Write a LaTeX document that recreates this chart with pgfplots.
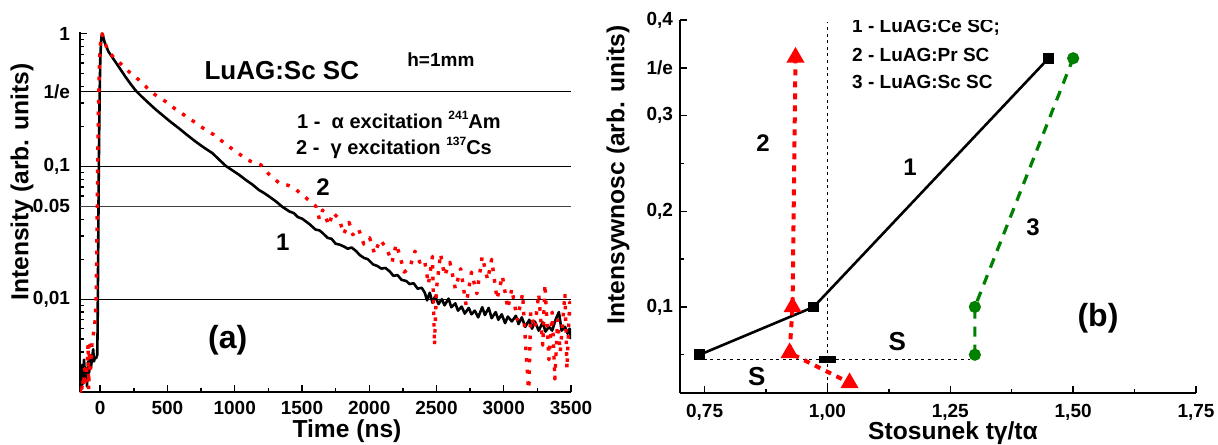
\documentclass[border=0pt]{standalone}
\usepackage{fontspec}
\setmainfont{Liberation Sans}
\usepackage{pgfplots}
\pgfplotsset{compat=1.18}
\definecolor{rred}{RGB}{255,0,0}
\definecolor{ggreen}{RGB}{0,128,0}

\newcommand{\fs}[1]{\bfseries\fontsize{#1}{#1}\selectfont}

\pgfplotsset{
  panel/.style={
    scale only axis,
    axis x line*=bottom, axis y line*=left,
    axis line style={line width=0.7pt},
    tick align=inside,
    major tick length=3.5pt, minor tick length=2pt,
    tick style={black, line width=0.7pt},
    tick label style={font=\fs{9.5}},
    /pgf/number format/assume math mode=true,
  },
}

\begin{document}
\begin{tikzpicture}
\path[use as bounding box] (-40pt,-26pt) rectangle (569pt,196pt);

% ---------- (a) decay curves ----------
\begin{axis}[panel,
  at={(0,0)}, anchor=south west,
  width=245.5pt, height=180pt,
  xmin=-150, xmax=3500,
  ymode=log, ymin=0.002, ymax=1.03,
  xtick={0,500,1000,1500,2000,2500,3000,3500},
  xticklabels={0,500,1000,1500,2000,2500,3000,3500},
  minor xtick={250,750,1250,1750,2250,2750,3250},
  xticklabel style={yshift=-1pt},
  ytick={0.01,0.05,0.1,0.3679,1},
  yticklabels={{0,01},0.05,{0,1},1/e,1},
  minor ytick={0.002,0.003,0.004,0.005,0.006,0.007,0.008,0.009,
               0.02,0.03,0.04,0.06,0.07,0.08,0.09,
               0.2,0.3,0.4,0.5,0.6,0.7,0.8,0.9},
  yticklabel style={xshift=-1.5pt},
]
% level lines
\addplot[black, line width=0.6pt] coordinates {(-150,0.3679) (3500,0.3679)};
\addplot[black, line width=0.6pt] coordinates {(-150,0.1) (3500,0.1)};
\addplot[black!75, line width=0.6pt] coordinates {(-150,0.05) (3500,0.05)};
\addplot[black, line width=0.6pt] coordinates {(-150,0.01) (3500,0.01)};

% 1 - alpha excitation
\addplot[black, line width=1.3pt, line join=round] coordinates {
(-150,0.0019) (-145,0.0028) (-140,0.0021) (-135,0.0032) (-128,0.0023) (-120,0.0035)
(-112,0.0026) (-105,0.0030) (-98,0.0022) (-90,0.0034) (-82,0.0028) (-75,0.0038)
(-68,0.0031) (-60,0.0036) (-52,0.0042) (-46,0.0034) (-40,0.0036) (-30,0.0036)
(-22,0.0038) (-19,0.006) (-17,0.012) (-14,0.03) (-11,0.08) (-7,0.2) (-3,0.4)
(1,0.65) (6,0.85) (11,0.97) (15,1.0) (22,0.95) (35,0.85) (62,0.732) (112,0.616)
(150,0.54) (187,0.475) (225,0.42) (262,0.375) (310,0.335) (361,0.30) (410,0.27)
(460,0.245) (520,0.218) (585,0.194) (645,0.173) (709,0.154) (770,0.139) (834,0.126)
(933,0.101) (1032,0.0866) (1080,0.0795) (1132,0.073) (1180,0.0665) (1219,0.063)
(1260,0.059) (1306,0.0546) (1350,0.050) (1405,0.0459) (1440,0.0445) (1470,0.0415)
(1500,0.0405) (1530,0.0385) (1560,0.0365) (1600,0.0335) (1630,0.0330) (1654,0.0315)
(1690,0.0290) (1720,0.0285) (1750,0.0262) (1778,0.0258) (1810,0.0250) (1840,0.0240)
(1870,0.0245) (1903,0.0230) (1930,0.0215) (1960,0.0205) (1990,0.0200) (2028,0.0183)
(2060,0.0178) (2090,0.0170) (2120,0.0172) (2152,0.0162) (2180,0.0150) (2210,0.0152)
(2240,0.0140) (2276,0.0137) (2300,0.0130) (2330,0.0132) (2360,0.0120) (2390,0.0122)
(2413,0.0112) (2430,0.0098) (2450,0.0112) (2470,0.0094) (2490,0.0105) (2515,0.0092)
(2540,0.0100) (2560,0.0090) (2590,0.0101) (2610,0.0087) (2640,0.0093) (2660,0.0082)
(2687,0.0088) (2710,0.0078) (2740,0.0086) (2760,0.0077) (2785,0.0082) (2810,0.0073)
(2840,0.0087) (2860,0.0076) (2888,0.0086) (2910,0.0072) (2940,0.0080) (2960,0.0070)
(2985,0.0077) (3010,0.0066) (3030,0.0074) (3060,0.0068) (3090,0.0075) (3110,0.0065)
(3134,0.0073) (3160,0.0062) (3190,0.0070) (3210,0.0060) (3231,0.0068) (3260,0.0058)
(3290,0.0067) (3310,0.0057) (3336,0.0062) (3360,0.0058) (3385,0.0070) (3410,0.0080)
(3430,0.0058) (3455,0.0062) (3475,0.0055) (3490,0.0060) (3500,0.0050)
};

% 2 - gamma excitation
\addplot[rred, line width=1.7pt, line join=round, dash pattern=on 1.8pt off 4pt] coordinates {
(-150,0.0021) (-140,0.0019) (-130,0.0025) (-125,0.0022) (-115,0.0030) (-105,0.0024)
(-95,0.0035) (-90,0.0046) (-85,0.0021) (-80,0.0045) (-70,0.0030) (-60,0.0047)
(-50,0.0055) (-40,0.0065) (-35,0.0077) (-30,0.0105) (-26,0.02) (-22,0.05)
(-18,0.12) (-12,0.3) (-6,0.55) (0,0.8) (8,0.95) (15,1.0) (25,0.92) (50,0.78)
(100,0.66) (137,0.615) (211,0.52) (286,0.45) (350,0.39) (410,0.346) (498,0.303)
(560,0.27) (622,0.245) (690,0.22) (746,0.200) (846,0.173) (958,0.141) (1030,0.125)
(1095,0.112) (1150,0.106) (1194,0.103) (1256,0.087) (1331,0.075) (1400,0.072)
(1455,0.067) (1530,0.058) (1604,0.050) (1630,0.040) (1654,0.047) (1700,0.036)
(1730,0.045) (1778,0.040) (1810,0.031) (1850,0.038) (1878,0.0306) (1920,0.034)
(1960,0.026) (2003,0.029) (2040,0.022) (2080,0.028) (2127,0.0244) (2170,0.019)
(2200,0.026) (2226,0.0217) (2260,0.016) (2301,0.0172) (2340,0.023) (2376,0.019)
(2410,0.020) (2440,0.013) (2470,0.021) (2485,0.0045) (2500,0.012) (2530,0.022)
(2560,0.015) (2600,0.019) (2640,0.012) (2680,0.017) (2720,0.009) (2760,0.016)
(2800,0.011) (2840,0.021) (2880,0.014) (2910,0.020) (2950,0.010) (2990,0.015)
(3030,0.0085) (3060,0.012) (3100,0.007) (3140,0.011) (3160,0.005) (3186,0.0019)
(3200,0.008) (3230,0.006) (3260,0.011) (3290,0.0045) (3306,0.013) (3336,0.0035)
(3360,0.008) (3380,0.0025) (3400,0.007) (3420,0.004) (3455,0.011) (3470,0.003)
(3490,0.0095) (3500,0.0069)
};

\node[font=\fs{13}] at (rel axis cs:0.411,0.892) {LuAG:Sc SC};
\node[font=\fs{9.5}] at (rel axis cs:0.735,0.922) {h=1mm};
\node[font=\fs{10}, anchor=west] at (rel axis cs:0.428,0.756)
  {1 -\ \ α excitation \raisebox{0.8ex}{\fs{6}241}Am};
\node[font=\fs{10}, anchor=west] at (rel axis cs:0.426,0.678)
  {2 -\ \ γ excitation \raisebox{0.8ex}{\fs{6}137}Cs};
\node[font=\fs{12}] at (rel axis cs:0.495,0.569) {2};
\node[font=\fs{12}] at (rel axis cs:0.413,0.417) {1};
\node[font=\fs{16}] at (rel axis cs:0.301,0.144) {(a)};
\end{axis}

% ---------- (b) intensity vs ratio ----------
\begin{axis}[panel,
  at={(300pt,-0.5pt)}, anchor=south west,
  width=258pt, height=186.5pt,
  xmin=0.70, xmax=1.75, ymin=0.01, ymax=0.4,
  xtick={0.75,1,1.25,1.5,1.75},
  xticklabels={{0,75},{1,00},{1,25},{1,50},{1,75}},
  minor xtick={0.875,1.125,1.375,1.625},
  xticklabel style={yshift=-2pt},
  ytick={0.1,0.2,0.3,0.35,0.4},
  yticklabels={{0,1},{0,2},{0,3},1/e,{0,4}},
  minor ytick={0.05,0.15,0.25},
]
\addplot[black, line width=0.8pt, dash pattern=on 1.5pt off 1.8pt]
  coordinates {(1.0,0.01) (1.0,0.398)};
\addplot[black, line width=0.8pt, dash pattern=on 1.5pt off 1.8pt]
  coordinates {(0.748,0.045) (1.29,0.045)};
\addplot[black, only marks, mark=square*, mark size=2pt,
  mark options={xscale=1.9, yscale=0.7}] coordinates {(1.0,0.045)};

% 1 - LuAG:Ce
\addplot[black, line width=1.3pt, mark=square*, mark size=2pt]
  coordinates {(0.74,0.05) (0.972,0.1) (1.45,0.36)};
% 2 - LuAG:Pr
\addplot[rred, line width=2pt, dash pattern=on 3pt off 3pt,
  mark=triangle*, mark size=3.2pt, mark options={solid}]
  coordinates {(0.935,0.361) (0.929,0.1) (0.923,0.052) (1.045,0.0206)};
% 3 - LuAG:Sc
\addplot[ggreen, line width=1.6pt, dash pattern=on 5pt off 4pt,
  mark=*, mark size=2.2pt, mark options={solid}]
  coordinates {(1.30,0.05) (1.30,0.1) (1.50,0.36)};

\node[font=\fs{9.5}, anchor=west] at (rel axis cs:0.320,0.979) {1 - LuAG:Ce SC;};
\node[font=\fs{9.5}, anchor=west] at (rel axis cs:0.320,0.906) {2 - LuAG:Pr SC};
\node[font=\fs{9.5}, anchor=west] at (rel axis cs:0.320,0.834) {3 - LuAG:Sc SC};
\node[font=\fs{12}] at (rel axis cs:0.161,0.670) {2};
\node[font=\fs{12}] at (rel axis cs:0.446,0.606) {1};
\node[font=\fs{12}] at (rel axis cs:0.684,0.445) {3};
\node[font=\fs{13}] at (rel axis cs:0.421,0.137) {S};
\node[font=\fs{13}] at (rel axis cs:0.149,0.043) {S};
\node[font=\fs{16}] at (rel axis cs:0.810,0.201) {(b)};
\end{axis}

% axis titles
\node[font=\fs{12.3}] at (133.5pt,-19.5pt) {Time (ns)};
\node[font=\fs{12.3}, rotate=90] at (-29pt,105pt) {Intensity (arb. units)};
\node[font=\fs{12.3}] at (436.5pt,-20.5pt) {Stosunek tγ/tα};
\node[font=\fs{12.3}, rotate=90] at (269pt,108.5pt) {Intensywnosc (arb. units)};
\end{tikzpicture}
\end{document}
